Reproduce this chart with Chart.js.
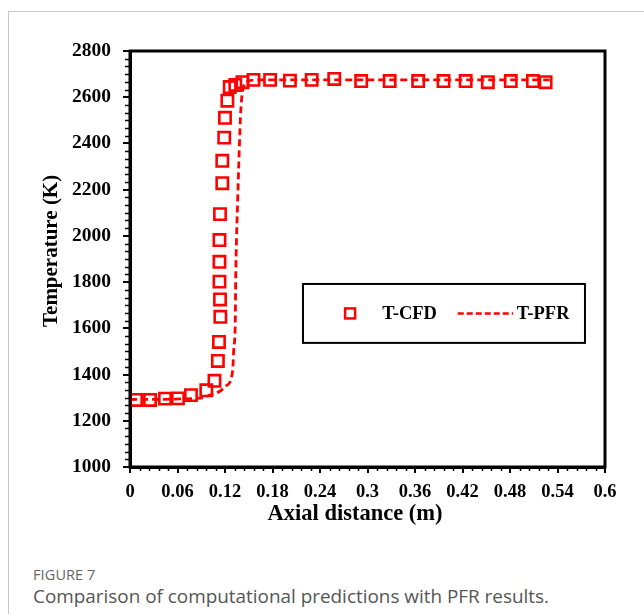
<!DOCTYPE html>
<html>
<head>
<meta charset="utf-8">
<script src="https://cdn.jsdelivr.net/npm/chart.js@4/dist/chart.umd.min.js"></script>
<style>
  html, body { margin: 0; padding: 0; background: #fff; }
  body { width: 644px; height: 614px; position: relative; overflow: hidden; }
  #card { position: absolute; left: 8px; top: 11px; width: 700px; height: 700px; border-left: 1px solid #c8c8c8; border-top: 1px solid #c8c8c8; }
  #wrap { position: absolute; left: 0; top: 0; width: 644px; height: 540px; }
  #cap1 { position: absolute; left: 33px; top: 565px; font-family: "Open Sans", sans-serif; font-size: 14.5px; color: #666; letter-spacing: 0.1px; }
  #cap2 { position: absolute; left: 33px; top: 583px; font-family: "Open Sans", sans-serif; font-size: 18.9px; color: #555; }
</style>
</head>
<body>
<div id="card"></div>
<div id="wrap"><canvas id="c" width="644" height="540"></canvas></div>
<div id="cap1">FIGURE 7</div>
<div id="cap2">Comparison of computational predictions with PFR results.</div>
<script>
// ---- data ----
const cfdX = [0.0076,0.0253,0.0442,0.0606,0.077,0.0964,0.1067,0.111,0.1124,0.1141,0.1137,0.113,0.113,0.113,0.1137,0.1166,0.1166,0.119,0.120,0.123,0.126,0.133,0.142,0.156,0.177,0.202,0.2295,0.258,0.292,0.328,0.364,0.396,0.424,0.452,0.481,0.509,0.525];
const cfdT = [1290,1290,1296,1297,1311,1332,1373,1459,1541,1650,1725,1802,1888,1982,2094,2228,2325,2425,2511,2585,2644,2653,2665,2675,2675,2672,2675,2679,2670,2670,2670,2670,2670,2665,2670,2670,2665];
const pfrX = [0,0.088,0.101,0.114,0.121,0.128,0.130,0.131,0.133,0.1335,0.1345,0.136,0.138,0.140,0.143,0.149,0.164,0.53];
const pfrT = [1292,1298,1311,1329,1350,1385,1433,1506,1636,1809,1982,2155,2372,2545,2640,2670,2675,2675];
const xTickLabels = ['0','0.06','0.12','0.18','0.24','0.3','0.36','0.42','0.48','0.54','0.6'];
const yTickLabels = ['1000','1200','1400','1600','1800','2000','2200','2400','2600','2800'];
const seriesNames = ['T-CFD','T-PFR'];
const xTitle = 'Axial distance (m)';
const yTitle = 'Temperature (K)';

const RED = '#ff0000';
const SERIF = '"Liberation Serif", "Times New Roman", serif';

const framePlugin = {
  id: 'frame',
  afterDraw(chart) {
    const ctx = chart.ctx, a = chart.chartArea, xs = chart.scales.x, ys = chart.scales.y;
    ctx.save();
    // minor ticks
    ctx.strokeStyle = '#000';
    ctx.lineWidth = 1.5;
    ctx.beginPath();
    for (let i = 0; i <= 50; i++) {
      if (i % 5 === 0) continue;
      const px = Math.round(xs.getPixelForValue(i * 0.012)) + 0.5;
      ctx.moveTo(px, a.bottom); ctx.lineTo(px, a.bottom + 4);
    }
    for (let i = 0; i <= 54; i++) {
      if (i % 6 === 0) continue;
      const py = Math.round(ys.getPixelForValue(1000 + i * 200 / 6)) + 0.5;
      ctx.moveTo(a.left, py); ctx.lineTo(a.left - 5, py);
    }
    ctx.stroke();
    // plot frame
    ctx.lineWidth = 3;
    ctx.strokeRect(a.left, a.top, a.right - a.left, a.bottom - a.top);

    // axis titles (positioned like the reference: a little off the plot centre)
    ctx.fillStyle = '#000';
    ctx.font = 'bold 22.5px ' + SERIF;
    ctx.textAlign = 'center';
    ctx.textBaseline = 'middle';
    ctx.fillText(xTitle, xs.getPixelForValue(0.2842), a.bottom + 47);
    ctx.save();
    ctx.font = 'bold 21px ' + SERIF;
    ctx.translate(a.left - 78, ys.getPixelForValue(1935));
    ctx.rotate(-Math.PI / 2);
    ctx.fillText(yTitle, 0, 0);
    ctx.restore();

    // legend box (placed in data coordinates of the plot)
    const L = xs.getPixelForValue(0.2185), R = xs.getPixelForValue(0.5747);
    const T = ys.getPixelForValue(1792), B = ys.getPixelForValue(1537);
    ctx.lineWidth = 2;
    ctx.strokeStyle = '#000';
    ctx.strokeRect(L, T, R - L, B - T);
    const cy = (T + B) / 2;
    // CFD marker
    const mx = xs.getPixelForValue(0.278);
    ctx.strokeStyle = RED; ctx.lineWidth = 2.5;
    ctx.strokeRect(mx - 5, cy - 5, 10, 10);
    // texts
    ctx.fillStyle = '#000';
    ctx.font = 'bold 18.5px ' + SERIF;
    ctx.textBaseline = 'middle';
    ctx.textAlign = 'left';
    ctx.fillText(seriesNames[0], xs.getPixelForValue(0.3185), cy + 1);
    // PFR dash
    ctx.beginPath();
    ctx.setLineDash([6, 3]);
    ctx.strokeStyle = RED; ctx.lineWidth = 2.5;
    ctx.moveTo(xs.getPixelForValue(0.414), cy);
    ctx.lineTo(xs.getPixelForValue(0.484), cy);
    ctx.stroke();
    ctx.setLineDash([]);
    ctx.fillText(seriesNames[1], xs.getPixelForValue(0.4885), cy + 1);
    ctx.restore();
  }
};

new Chart(document.getElementById('c'), {
  type: 'scatter',
  data: {
    datasets: [
      {
        label: seriesNames[0],
        data: cfdX.map((x, i) => ({ x: x, y: cfdT[i] })),
        showLine: false,
        pointStyle: 'rect',
        pointRadius: 8,
        pointBorderWidth: 2.6,
        borderColor: RED,
        backgroundColor: 'rgba(0,0,0,0)',
        order: 1
      },
      {
        label: seriesNames[1],
        data: pfrX.map((x, i) => ({ x: x, y: pfrT[i] })),
        showLine: true,
        pointRadius: 0,
        borderColor: RED,
        borderWidth: 2.8,
        borderDash: [7, 4],
        cubicInterpolationMode: 'monotone',
        fill: false,
        order: 0
      }
    ]
  },
  options: {
    responsive: false,
    animation: false,
    devicePixelRatio: 1,
    layout: { padding: { left: 30, right: 39, top: 51, bottom: 13 } },
    plugins: { legend: { display: false }, tooltip: { enabled: false } },
    scales: {
      x: {
        type: 'linear', min: 0, max: 0.6,
        afterFit: s => { s.height = 60; },
        ticks: {
          stepSize: 0.06, autoSkip: false, maxRotation: 0, padding: 8,
          color: '#000', font: { family: SERIF, size: 18.5, weight: 'bold' },
          callback: (v, i) => xTickLabels[i]
        },
        grid: { drawOnChartArea: false, drawTicks: true, tickLength: 6, color: '#000', lineWidth: 2 },
        border: { display: true, color: '#000', width: 3 }
      },
      y: {
        type: 'linear', min: 1000, max: 2800,
        afterFit: s => { s.width = 100; },
        ticks: {
          stepSize: 200, autoSkip: false, padding: 12,
          color: '#000', font: { family: SERIF, size: 19.5, weight: 'bold' },
          callback: (v, i) => yTickLabels[i]
        },
        grid: { drawOnChartArea: false, drawTicks: true, tickLength: 7, color: '#000', lineWidth: 2 },
        border: { display: true, color: '#000', width: 3 }
      }
    }
  },
  plugins: [framePlugin]
});
</script>
</body>
</html>
